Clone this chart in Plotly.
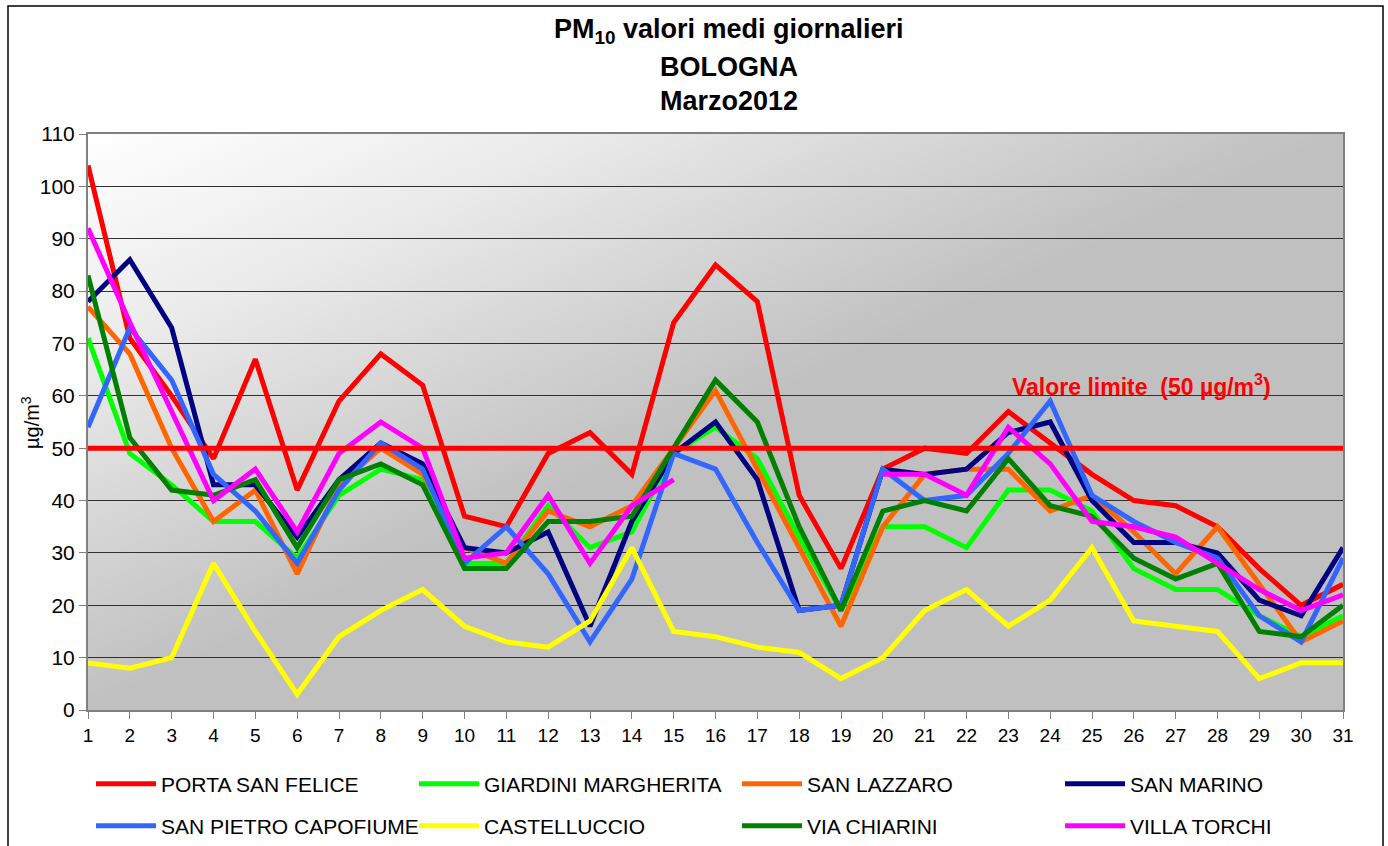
import base64
import plotly.graph_objects as go

days = list(range(1, 32))
day_labels = [str(d) for d in days]

porta_san_felice = [104, 71, 60, 48, 67, 42, 59, 68, 62, 37, 35, 49, 53, 45, 74, 85, 78, 41, 27, 46, 50, 49, 57, 51, 45, 40, 39, 35, 27, 20, 24]
giardini_margherita = [71, 49, 43, 36, 36, 29, 41, 46, 44, 28, 28, 39, 31, 34, 49, 54, 48, 33, 19, 35, 35, 31, 42, 42, 38, 27, 23, 23, 18, 14, 18]
san_lazzaro = [77, 68, 50, 36, 42, 26, 43, 50, 45, 31, 28, 38, 35, 39, 50, 61, 46, 31, 16, 35, 45, 46, 46, 38, 41, 34, 26, 35, 24, 13, 17]
san_marino = [78, 86, 73, 43, 43, 33, 44, 51, 47, 31, 30, 34, 16, 36, 49, 55, 44, 19, 20, 46, 45, 46, 53, 55, 40, 32, 32, 30, 21, 18, 31]
san_pietro_capofiume = [54, 73, 63, 45, 38, 28, 42, 51, 46, 28, 35, 26, 13, 25, 49, 46, 32, 19, 20, 46, 40, 41, 49, 59, 41, 36, 32, 29, 18, 13, 29]
castelluccio = [9, 8, 10, 28, 15, 3, 14, 19, 23, 16, 13, 12, 17, 31, 15, 14, 12, 11, 6, 10, 19, 23, 16, 21, 31, 17, 16, 15, 6, 9, 9]
via_chiarini = [83, 52, 42, 41, 44, 31, 44, 47, 43, 27, 27, 36, 36, 37, 50, 63, 55, 35, 19, 38, 40, 38, 48, 39, 37, 29, 25, 28, 15, 14, 20]
villa_torchi = [92, 74, 57, 40, 46, 34, 49, 55, 50, 29, 30, 41, 28, 39, 44, None, None, None, None, 45, 45, 41, 54, 47, 36, 35, 33, 28, 23, 19, 22]

limit_value = 50

series_names = ["PORTA SAN FELICE", "GIARDINI MARGHERITA", "SAN LAZZARO", "SAN MARINO",
                "SAN PIETRO CAPOFIUME", "CASTELLUCCIO", "VIA CHIARINI", "VILLA TORCHI"]
series_values = [porta_san_felice, giardini_margherita, san_lazzaro, san_marino,
                 san_pietro_capofiume, castelluccio, via_chiarini, villa_torchi]
series_colors = ["#FF0000", "#00FF00", "#FF6600", "#000080",
                 "#3366FF", "#FFFF00", "#008000", "#FF00FF"]

FONT = "Liberation Sans, Arial, sans-serif"

# plot area geometry (pixels)
W, H = 1388, 846
L, R, T, B = 88, 45, 134, 136
PW, PH = W - L - R, H - T - B


def px_x(px):
    return (px - L) / PW


def px_y(py):
    return (H - B - py) / PH


# legend slot positions: 4 columns x 2 rows
legend_cols_px = [91, 414, 737, 1060]
legend_rows_px = [784, 826]

fig = go.Figure()
legend_layouts = {}

for i, (name, vals, col) in enumerate(zip(series_names, series_values, series_colors)):
    lg = "legend" if i == 0 else f"legend{i + 1}"
    fig.add_trace(go.Scatter(
        x=days, y=vals, mode="lines", name=name,
        line=dict(color=col, width=5),
        connectgaps=False,
        legend=lg,
    ))
    legend_layouts[lg] = dict(
        x=px_x(legend_cols_px[i % 4]), y=px_y(legend_rows_px[i // 4]),
        xref="paper", yref="paper", xanchor="left", yanchor="middle",
        orientation="h", itemwidth=60,
        font=dict(family=FONT, size=21, color="black"),
        bgcolor="rgba(0,0,0,0)", borderwidth=0,
    )

fig.add_trace(go.Scatter(
    x=[days[0], days[-1]], y=[limit_value, limit_value], mode="lines",
    line=dict(color="#FF0000", width=5), showlegend=False, hoverinfo="skip",
))

# background gradient for the plot area
svg = (
    f'<svg xmlns="http://www.w3.org/2000/svg" width="{PW}" height="{PH}" '
    f'viewBox="0 0 {PW} {PH}" preserveAspectRatio="none">'
    '<defs><linearGradient id="g" gradientUnits="userSpaceOnUse" x1="0" y1="0" x2="218" y2="476">'
    '<stop offset="0" stop-color="#ffffff"/><stop offset="0.4" stop-color="#eaeaea"/>'
    '<stop offset="1" stop-color="#c0c0c0"/></linearGradient></defs>'
    f'<rect width="{PW}" height="{PH}" fill="url(#g)"/></svg>'
)
src = "data:image/svg+xml;base64," + base64.b64encode(svg.encode()).decode()

title_lines = ["<b>PM<sub>10</sub> valori medi giornalieri</b>", "<b>BOLOGNA</b>", "<b>Marzo2012</b>"]
title_py = [31, 67, 101]
annotations = []
for txt, py in zip(title_lines, title_py):
    annotations.append(dict(
        text=txt, xref="paper", yref="paper", x=px_x(729), y=px_y(py),
        xanchor="center", yanchor="middle", showarrow=False,
        font=dict(family=FONT, size=27, color="black"),
    ))
annotations.append(dict(
    text="<b>Valore limite  (50 µg/m<sup>3</sup>)</b>", xref="x", yref="y",
    x=23.05, y=62, xanchor="left", yanchor="middle", showarrow=False,
    font=dict(family=FONT, size=23, color="#FF0000"),
))
annotations.append(dict(
    text="µg/m<sup>3</sup>", xref="paper", yref="paper", x=px_x(30), y=px_y(423),
    xanchor="center", yanchor="middle", textangle=-90, showarrow=False,
    font=dict(family=FONT, size=20, color="black"),
))

fig.update_layout(
    width=W, height=H,
    margin=dict(l=L, r=R, t=T, b=B, autoexpand=False),
    paper_bgcolor="white",
    plot_bgcolor="rgba(0,0,0,0)",
    font=dict(family=FONT, color="black"),
    showlegend=True,
    annotations=annotations,
    images=[dict(source=src, xref="paper", yref="paper", x=0, y=1, sizex=1, sizey=1,
                 xanchor="left", yanchor="top", sizing="stretch", layer="below")],
    shapes=[dict(type="rect", xref="paper", yref="paper",
                 x0=px_x(8), x1=px_x(1383), y0=px_y(6), y1=px_y(852),
                 line=dict(color="black", width=1.5), fillcolor="rgba(0,0,0,0)", layer="above")],
    xaxis=dict(
        range=[1, 31], tickmode="array", tickvals=days, ticktext=day_labels,
        ticks="outside", ticklen=7, tickcolor="#808080",
        showgrid=False, zeroline=False,
        showline=True, linecolor="#808080", linewidth=2, mirror=True,
        tickfont=dict(family=FONT, size=19, color="black"),
    ),
    yaxis=dict(
        range=[0, 110], tickmode="linear", tick0=0, dtick=10,
        ticks="outside", ticklen=7, tickcolor="#808080",
        showgrid=True, gridcolor="#303030", gridwidth=1, zeroline=False,
        showline=True, linecolor="#808080", linewidth=2, mirror=True,
        tickfont=dict(family=FONT, size=21, color="black"),
    ),
    **legend_layouts,
)

fig.write_html(
    "out.html",
    config={"displayModeBar": False},
    post_script="document.body.style.margin='0';document.body.style.overflow='hidden';",
)
